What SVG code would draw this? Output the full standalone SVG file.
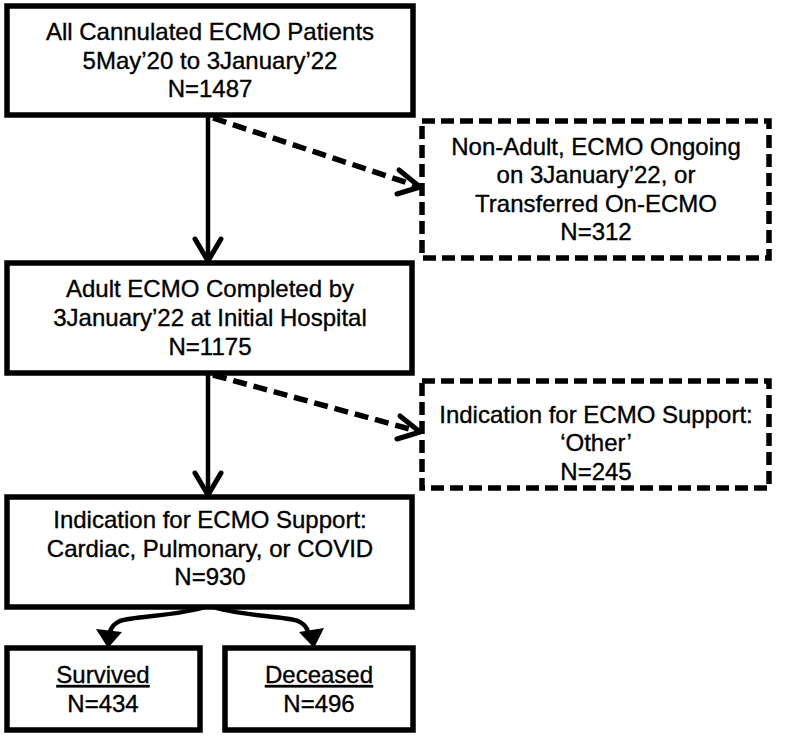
<svg xmlns="http://www.w3.org/2000/svg" width="797" height="737" viewBox="0 0 797 737">
<style>
.box{fill:#fff;stroke:#000;stroke-width:5.5}
.dbox{fill:#fff;stroke:#000;stroke-width:5.5;stroke-dasharray:13 6}
.t{font-family:"Liberation Sans",Arial,sans-serif;font-size:24px;fill:#000;stroke:#000;stroke-width:0.35;text-anchor:middle}
.ln{fill:none;stroke:#000;stroke-width:4.5}
.dl{fill:none;stroke:#000;stroke-width:5.5;stroke-dasharray:14 7}
.hd{fill:none;stroke:#000;stroke-width:5;stroke-linecap:round;stroke-linejoin:round}
</style>
<rect width="797" height="737" fill="#fff"/>
<g id="connectors">
<line class="ln" x1="208" y1="115" x2="208" y2="260"/>
<polyline class="hd" points="195,239 208,261 221,239"/>
<line class="dl" x1="213" y1="118" x2="417" y2="186"/>
<polyline class="hd" points="399,170 420,187 397,194"/>
<line class="ln" x1="208" y1="373" x2="208" y2="494"/>
<polyline class="hd" points="195,473 208,495 221,473"/>
<line class="dl" x1="213" y1="375" x2="417" y2="431"/>
<polyline class="hd" points="400,416 420,432 397,439"/>
<path class="ln" d="M208,606 C180,616 135,616 120,621 C113,624 111,628 110,632"/>
<polygon points="108,648 96,629 122,632"/>
<path class="ln" d="M210,606 C238,616 283,616 298,621 C305,624 307,628 308,632"/>
<polygon points="314,648 299,632 324,628"/>
</g>
<g id="n1">
<rect class="box" x="7" y="6" width="406" height="109"/>
<text class="t" x="210" y="40">All Cannulated ECMO Patients</text>
<text class="t" x="210" y="69">5May’20 to 3January’22</text>
<text class="t" x="210" y="97">N=1487</text>
</g>
<g id="n2">
<rect class="dbox" x="422" y="121" width="347" height="137"/>
<text class="t" x="596" y="155">Non-Adult, ECMO Ongoing</text>
<text class="t" x="596" y="183">on 3January’22, or</text>
<text class="t" x="596" y="212">Transferred On-ECMO</text>
<text class="t" x="596" y="240">N=312</text>
</g>
<g id="n3">
<rect class="box" x="7" y="263" width="405" height="110"/>
<text class="t" x="210" y="297">Adult ECMO Completed by</text>
<text class="t" x="210" y="326">3January’22 at Initial Hospital</text>
<text class="t" x="210" y="355">N=1175</text>
</g>
<g id="n4">
<rect class="dbox" x="422" y="381" width="347" height="107"/>
<text class="t" x="596" y="423">Indication for ECMO Support:</text>
<text class="t" x="596" y="451">‘Other’</text>
<text class="t" x="596" y="480">N=245</text>
</g>
<g id="n5">
<rect class="box" x="7" y="497" width="405" height="110"/>
<text class="t" x="210" y="528">Indication for ECMO Support:</text>
<text class="t" x="210" y="557">Cardiac, Pulmonary, or COVID</text>
<text class="t" x="210" y="585">N=930</text>
</g>
<g id="n6">
<rect class="box" x="7" y="648" width="193" height="82"/>
<text class="t" x="103" y="683" text-decoration="underline">Survived</text>
<text class="t" x="103" y="712">N=434</text>
</g>
<g id="n7">
<rect class="box" x="225" y="648" width="188" height="82"/>
<text class="t" x="319" y="683" text-decoration="underline">Deceased</text>
<text class="t" x="319" y="712">N=496</text>
</g>
</svg>
